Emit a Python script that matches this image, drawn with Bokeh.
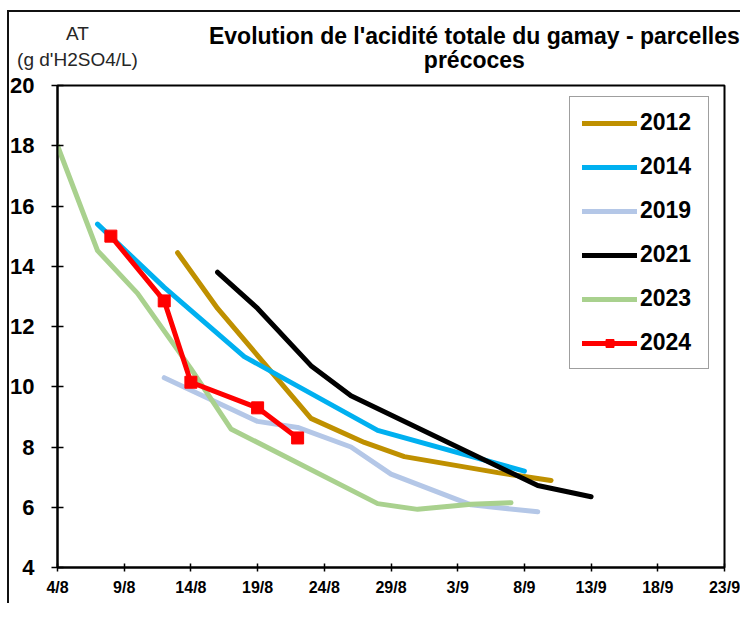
from datetime import date

from bokeh.plotting import figure
from bokeh.models import (Range1d, FixedTicker, Legend, LegendItem, LinearAxis)
from bokeh.embed import file_html
from bokeh.resources import INLINE

# ---------------- data (dates as day/month, AT in g H2SO4/L) ----------------
years = ["2012", "2014", "2019", "2021", "2023", "2024"]

dates_2012 = ["13/8", "16/8", "23/8", "27/8", "30/8", "6/9", "10/9"]
at_2012 = [14.45, 12.6, 8.95, 8.15, 7.68, 7.15, 6.89]

dates_2014 = ["7/8", "12/8", "18/8", "28/8", "8/9"]
at_2014 = [15.4, 13.3, 11.0, 8.55, 7.2]

dates_2019 = ["12/8", "19/8", "22/8", "26/8", "29/8", "4/9", "9/9"]
at_2019 = [10.3, 8.85, 8.65, 8.0, 7.1, 6.08, 5.85]

dates_2021 = ["16/8", "19/8", "23/8", "26/8", "9/9", "13/9"]
at_2021 = [13.8, 12.6, 10.7, 9.7, 6.72, 6.35]

dates_2023 = ["4/8", "7/8", "10/8", "14/8", "17/8", "28/8", "31/8", "4/9", "7/9"]
at_2023 = [18.0, 14.52, 13.1, 10.6, 8.6, 6.12, 5.93, 6.1, 6.15]

dates_2024 = ["8/8", "12/8", "14/8", "19/8", "22/8"]
at_2024 = [15.0, 12.85, 10.15, 9.3, 8.3]

x_tick_labels = ["4/8", "9/8", "14/8", "19/8", "24/8", "29/8",
                 "3/9", "8/9", "13/9", "18/9", "23/9"]
y_ticks = [4, 6, 8, 10, 12, 14, 16, 18, 20]

title_line1 = "Evolution de l'acidité totale du gamay - parcelles"
title_line2 = "précoces"
y_title_text = "AT\n(g d'H2SO4/L)"

colors = ["#BF9000", "#00B0F0", "#B4C7E7", "#000000", "#A9D18E", "#FF0000"]

# ---------------- helpers ----------------
ORIGIN = date(2000, 8, 4)


def day(s):
    d, m = map(int, s.split("/"))
    return (date(2000, m, d) - ORIGIN).days


FONT = "Liberation Sans"
W, H = 740, 603
FRAME_L, FRAME_R, FRAME_T, FRAME_B = 57, 724, 85, 567

series = [
    (dates_2012, at_2012),
    (dates_2014, at_2014),
    (dates_2019, at_2019),
    (dates_2021, at_2021),
    (dates_2023, at_2023),
    (dates_2024, at_2024),
]

x_ticks = [day(s) for s in x_tick_labels]
X0, X1 = x_ticks[0], x_ticks[-1]
Y0, Y1 = y_ticks[0], y_ticks[-1]

p = figure(width=W, height=H,
           x_range=Range1d(X0, X1), y_range=Range1d(Y0, Y1),
           output_backend="svg", toolbar_location=None,
           min_border_left=FRAME_L, min_border_right=W - FRAME_R,
           min_border_top=FRAME_T, min_border_bottom=H - FRAME_B)

p.title.visible = False
p.xgrid.visible = False
p.ygrid.visible = False
p.background_fill_color = "white"
p.border_fill_color = None
p.outline_line_color = "black"
p.outline_line_width = 2
# white page with the outer chart border (top and left edges)
p.styles = {
    "background": ("linear-gradient(#111,#111) 7px 10px / 2px 100% no-repeat, "
                   "linear-gradient(#111,#111) 7px 10px / 100% 2px no-repeat, "
                   "white"),
}


def clear_panel(ax):
    if "background_fill_color" in ax.properties():
        ax.background_fill_color = None


# axes
p.xaxis.ticker = FixedTicker(ticks=x_ticks)
p.xaxis.major_label_overrides = {t: l for t, l in zip(x_ticks, x_tick_labels)}
p.yaxis.ticker = FixedTicker(ticks=y_ticks)
for ax in (p.xaxis[0], p.yaxis[0]):
    clear_panel(ax)
    ax.axis_line_color = "black"
    ax.axis_line_width = 2
    ax.major_tick_line_color = "black"
    ax.major_tick_line_width = 1.5
    ax.minor_tick_line_color = None
    ax.major_label_text_font = FONT
    ax.major_label_text_font_style = "bold"
    ax.major_label_text_color = "black"
p.xaxis.major_tick_in = 4
p.xaxis.major_tick_out = 4
p.xaxis.major_label_text_font_size = "16px"
p.xaxis.major_label_standoff = 7
p.yaxis.major_tick_in = 6
p.yaxis.major_tick_out = 6
p.yaxis.major_label_text_font_size = "22px"
p.yaxis.major_label_standoff = 17


# title and y-unit texts, carried by label-only axes above the frame
def text_axis(pos, txt, size, style, color, standoff):
    ax = LinearAxis(ticker=FixedTicker(ticks=[pos]),
                    major_label_overrides={pos: txt})
    clear_panel(ax)
    ax.axis_line_color = None
    ax.major_tick_line_color = None
    ax.minor_tick_line_color = None
    ax.major_tick_in = 0
    ax.major_tick_out = 0
    ax.major_label_text_font = FONT
    ax.major_label_text_font_size = size
    ax.major_label_text_font_style = style
    ax.major_label_text_color = color
    ax.major_label_standoff = standoff
    return ax


# stacked from the frame upwards
p.add_layout(text_axis(31.25, title_line2, "23px", "bold", "black", 13), "above")
p.add_layout(text_axis(31.25, title_line1, "23px", "bold", "black", -5), "above")
p.add_layout(text_axis(1.5, y_title_text, "19px", "normal", "#262626", -50),
             "above")

# series
items = []
for yr, (ds, vals), c in zip(years, series, colors):
    xs = [day(s) for s in ds]
    r = p.line(xs, vals, line_color=c, line_width=5,
               line_cap="round", line_join="round")
    rends = [r]
    if yr == "2024":
        m = p.scatter(xs, vals, marker="square", size=12,
                      fill_color=c, line_color=c)
        rends.append(m)
    items.append(LegendItem(label=yr, renderers=rends))

legend = Legend(items=items, location=(569 - FRAME_L, FRAME_B - 369),
                label_text_font=FONT, label_text_font_style="bold",
                label_text_font_size="23px", label_text_color="black",
                glyph_width=55, glyph_height=20, label_standoff=3,
                label_width=56,
                padding=12, spacing=17, margin=0,
                border_line_color="#404040", border_line_width=1,
                background_fill_color="white", background_fill_alpha=1)
p.add_layout(legend)

open("out.html", "w").write(file_html(p, INLINE))
